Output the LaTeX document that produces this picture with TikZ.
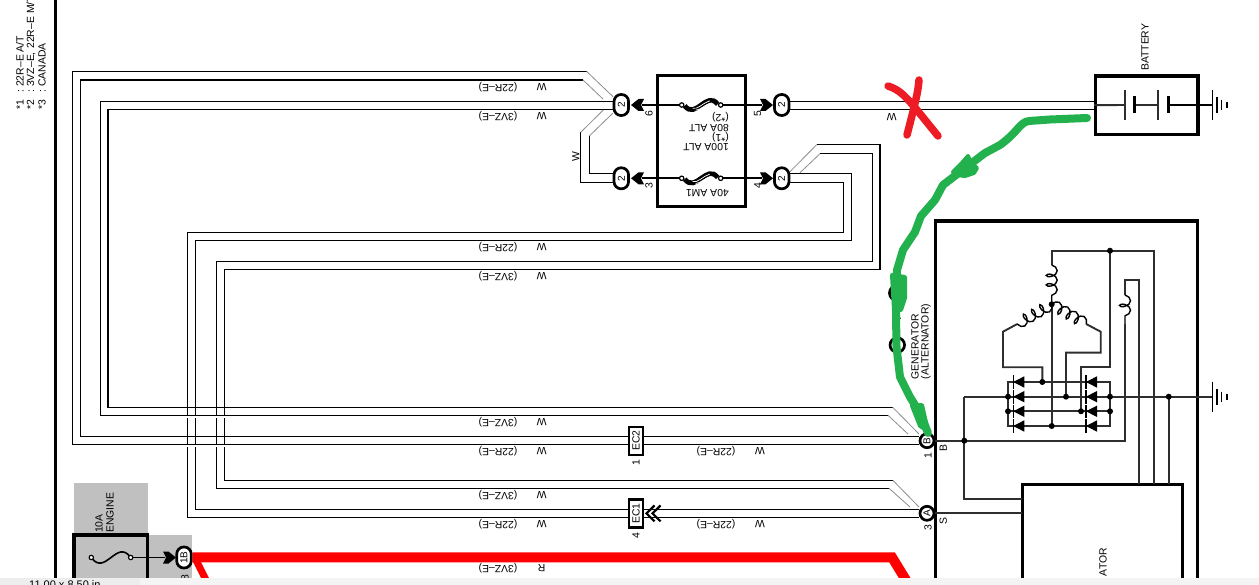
\documentclass[tikz,border=0pt]{standalone}
\usepackage{fontspec}
\setmainfont{Liberation Sans}
\usetikzlibrary{positioning}
\usetikzlibrary{calc}
\usetikzlibrary{decorations.pathmorphing}
\definecolor{markgreen}{HTML}{22B14C}
\definecolor{markred}{HTML}{ED1C24}
\definecolor{zonegray}{HTML}{C0C0C0}
\definecolor{bargray}{HTML}{EDEDED}
\definecolor{barlight}{HTML}{F4F4F4}
\newcommand{\notetext}[2]{\makebox[17pt][l]{#1}\makebox[6pt][l]{:}#2}
\tikzset{
	wire/.style={line width=1.1pt, line join=miter},
	splice/.style={line width=0.8pt, black!45},
	feed/.style={line width=1.9pt, black!82},
	frame/.style={line width=3.3pt},
	smalltext/.style={font=\fontsize{10.4}{11}\selectfont, inner sep=0pt},
	wirelabel/.style={smalltext, rotate=180},
	uptext/.style={smalltext, rotate=90},
	pinoval/.style={draw, line width=2.7pt, fill=white, rounded corners=7pt, minimum width=14.5pt, minimum height=21pt, inner sep=0pt, font=\fontsize{10}{11}\selectfont},
	pinring/.style={draw, line width=2.7pt, fill=white, circle, minimum size=14pt, inner sep=0pt, font=\fontsize{10}{11}\selectfont},
	ecbox/.style={draw, line width=2.2pt, fill=white, minimum width=13.5pt, minimum height=28pt, inner sep=0pt},
	junction/.style={circle, fill, inner sep=0pt, minimum size=6pt},
	tipright/.pic={\fill (0,-6) -- (5.5,-6) -- (13,0) -- (5.5,6) -- (0,6) -- (3,0) -- cycle;},
	tipleft/.pic={\fill (0,-6) -- (-5.5,-6) -- (-13,0) -- (-5.5,6) -- (0,6) -- (-3,0) -- cycle;},
	diode/.pic={\fill (0,0) -- (11,-5.7) -- (11,5.7) -- cycle; \draw[line width=1.3pt] (0,-6.8) -- (0,6.8);},
	earth/.pic={\draw[line width=1.4pt] (0,-15) -- (0,15) (4.7,-8) -- (4.7,8) (9.4,-5) -- (9.4,5); \draw[line width=2pt] (14.4,-3) -- (14.4,3);},
	fusebig/.pic={\draw[line width=4.8pt] (3,0.8) .. controls (14,15) and (25,-15) .. (36,-0.8);
		\draw[white, line width=0.7pt] (11,3.2) .. controls (16,5) and (21,-2) .. (28,-4.2) (14,5.2) .. controls (19,5) and (24,-1) .. (30,-2.2);
		\draw[fill=white, line width=1.2pt] (0,0) circle (2.2pt) (39,0) circle (2.2pt);},
	coilwire/.style={line width=1.4pt, decorate, decoration={coil, aspect=0.6, amplitude=5.5pt, segment length=9.5pt}},
}
\begin{document}
\begin{tikzpicture}[x=1pt, y=-1pt]
	\useasboundingbox (0,0) rectangle (1259,585);
	% gray zones
	\fill[zonegray] (74,483) rectangle (147.7,578);
	\fill[zonegray] (147.7,535) rectangle (192,578);
	% left rule and notes
	\draw[line width=3pt] (55.7,0) -- (55.7,578);
	\node (noteone) [uptext, anchor=west] at (20,110) {\notetext{*1}{22R--E A/T}};
	\node (notetwo) [uptext, anchor=west] at (31,110) {\notetext{*2}{3VZ--E,\,\,22R--E M/T}};
	\node (notethree) [uptext, anchor=west] at (42,110) {\notetext{*3}{CANADA}};
	% connectors
	\node (pinsix) [pinoval] at (621.3,105) {\rotatebox{90}{2}};
	\node (pinthree) [pinoval] at (621.3,178.3) {\rotatebox{90}{2}};
	\node (pinfive) [pinoval] at (781.7,105) {\rotatebox{90}{2}};
	\node (pinfour) [pinoval] at (781.7,178.3) {\rotatebox{90}{2}};
	\node (pinb) [pinring] at (927,440.7) {\rotatebox{90}{B}};
	\node (pina) [pinring] at (927,513.3) {\rotatebox{90}{A}};
	\node (pinengine) [pinoval] at (184,557.5) {\rotatebox{90}{1B}};
	% wires, outer bundle
	\draw[wire] (586.7,71.5) -- (72.5,71.5) -- (72.5,444.3) -- (pinb.west |- 0,444.3);
	\draw[wire] (583,80) -- (80.5,80) -- (80.5,436.3) -- (pinb.west |- 0,436.3);
	\draw[wire] (pinsix.west |- 0,101.3) -- (100.5,101.3) -- (100.5,415.3) -- (888,415.3);
	\draw[wire] (pinsix.west |- 0,109.3) -- (108,109.3) -- (108,407.3) -- (892.7,407.3);
	% wires, inner bundle
	\draw[wire] (816.7,144.7) -- (880,144.7) -- (880,269.3) -- (224.5,269.3) -- (224.5,480.5) -- (893,480.5);
	\draw[wire] (820,153.7) -- (872.6,153.7) -- (872.6,261.3) -- (216.5,261.3) -- (216.5,488.3) -- (889,488.3);
	\draw[wire] (pinfour.east |- 0,173.7) -- (851.3,173.7) -- (851.3,240.4) -- (195.5,240.4) -- (195.5,509.3) -- (pina.west |- 0,509.3);
	\draw[wire] (pinfour.east |- 0,182.3) -- (843.3,182.3) -- (843.3,232.4) -- (187.5,232.4) -- (187.5,517.3) -- (pina.west |- 0,517.3);
	% small breaks where the vertical wires pass under
	\foreach \gapx in {187.5,195.5,216.5,224.5} {
		\draw[white, line width=1.6pt] (\gapx,416.4) -- +(0,1.2);
		\draw[white, line width=1.6pt] (\gapx,445.4) -- +(0,1.2);
	}
	% wires between the fuse pins and to battery
	\draw[wire] (pinfive.east |- 0,101.3) -- (1095.7,101.3);
	\draw[wire] (pinfive.east |- 0,109.3) -- (1095.7,109.3);
	\draw[wire] (pinthree.west |- 0,173.7) -- (589.3,173.7) -- (589.3,136);
	\draw[wire] (pinthree.west |- 0,182.3) -- (580.7,182.3) -- (580.7,132.3);
	% angled splices
	\draw[splice] (586.7,71.5) -- (613,96.7);
	\draw[splice] (583,80) -- (603,99);
	\draw[splice] (603.3,110) -- (580.7,132.3);
	\draw[splice] (612.7,113.3) -- (589.3,136);
	\draw[splice] (816.7,144.7) -- (790,171.7);
	\draw[splice] (820,153.7) -- (800,172.7);
	\draw[splice] (892.7,407.3) -- (919,434);
	\draw[splice] (888,415.3) -- (908,434);
	\draw[splice] (893,480.5) -- (919,507);
	\draw[splice] (889,488.3) -- (910,507);
	% fuse block
	\node (fuseblock) [draw, frame, minimum width=87.6pt, minimum height=131pt, inner sep=0pt] at (701.5,141.2) {};
	\draw[line width=2pt] (642,105) -- (681.7,105) (720.7,105) -- (762,105);
	\draw[line width=2pt] (642,178.3) -- (681.7,178.3) (720.7,178.3) -- (762,178.3);
	\pic at (681.7,105) {fusebig};
	\pic at (681.7,178.3) {fusebig};
	\pic at (760,105) {tipright};
	\pic at (760,178.3) {tipright};
	\pic at (644,105) {tipleft};
	\pic at (644,178.3) {tipleft};
	\node (fusetwo) [wirelabel, anchor=west] at (729,116.7) {(*2)};
	\node (fusealt) [wirelabel, anchor=west] at (729,128.3) {80A ALT};
	\node (fuseone) [wirelabel, anchor=west] at (729,137.3) {(*1)};
	\node (fusemain) [wirelabel, anchor=west] at (729,147.3) {100A ALT};
	\node (fuseam) [wirelabel, anchor=west] at (729,193.3) {40A AM1};
	\node (numsix) [uptext] at (649,113.3) {6};
	\node (numfive) [uptext] at (757.7,113.3) {5};
	\node (numthree) [uptext] at (649,186) {3};
	\node (numfour) [uptext] at (757.7,186) {4};
	\node (wsplice) [uptext] at (575.7,156.7) {W};
	\node (wbat) [wirelabel] at (891.7,116.7) {W};
	% wire labels
	\foreach \rowy/\colname/\engname in {87/W/(22R--E),116/W/(3VZ--E),247/W/(22R--E),276/W/(3VZ--E),422.3/W/(3VZ--E),451.5/W/(22R--E),495.5/W/(3VZ--E),524.3/W/(22R--E),567.7/R/(3VZ--E)} {
		\node [wirelabel] at (541.7,\rowy) {\colname};
		\node [wirelabel] at (498,\rowy) {\engname};
	}
	\foreach \rowy in {451.5,524.3} {
		\node [wirelabel] at (760,\rowy) {W};
		\node [wirelabel] at (716,\rowy) {(22R--E)};
	}
	% in-line connectors
	\node (ectwo) [ecbox] at (636,440.7) {\rotatebox{90}{\fontsize{10.4}{11}\selectfont EC2}};
	\node (econe) [ecbox] at (636,513.5) {\rotatebox{90}{\fontsize{10.4}{11}\selectfont EC1}};
	\node (numecb) [uptext] at (636,462.7) {1};
	\node (numeca) [uptext] at (636,536) {4};
	\draw[line width=2.2pt] (654.5,505.5) -- (646.5,513.4) -- (654.5,521.3) (660.5,505.5) -- (652.5,513.4) -- (660.5,521.3);
	% heavy red wire
	\draw[red, line width=10pt, line join=miter] (pinengine.east |- 0,557.3) -- (892,557.3) -- (912,590);
	\draw[red, line width=7pt] (196,560) -- (211,590);
	% engine fuse
	\node (enginefuse) [draw, frame, minimum width=73.7pt, minimum height=50pt, inner sep=0pt] at (110.8,560) {};
	\draw[line width=1.6pt] (91.3,557.5) .. controls (105,577) and (117,538) .. (130.7,557.5);
	\draw[fill=white, line width=1.1pt] (91.3,557.5) circle (2.2pt) (130.7,557.5) circle (2.2pt);
	\draw[line width=1.3pt] (133,557.5) -- (165,557.5);
	\pic at (163,557.5) {tipright};
	\node (tenamp) [uptext, anchor=west] at (99,533) {10A};
	\node (enginelabel) [uptext, anchor=west] at (110,533) {ENGINE};
	\node (numengine) [uptext] at (185,578) {8};
	% battery
	\node (battery) [draw, frame, minimum width=102.3pt, minimum height=58.3pt, inner sep=0pt] at (1146.8,105.2) {};
	\node (batterylabel) [uptext, anchor=west] at (1145,71) {BATTERY};
	\draw[feed] (battery.west) -- (1125,105) (1134.3,105) -- (1158.3,105);
	\draw[line width=1.7pt] (1168.3,105) -- (1212.3,105);
	\draw[feed] (1125,90) -- (1125,120) (1158.3,90) -- (1158.3,120);
	\draw[line width=2.8pt] (1134.3,96) -- (1134.3,113.3) (1168.3,96) -- (1168.3,113.3);
	\pic at (1212.3,105) {earth};
	% generator
	\node (generator) [uptext, anchor=west] at (915,379.3) {GENERATOR};
	\node (alternator) [uptext, anchor=west] at (926,379.3) {(ALTERNATOR)};
	\node (numb) [uptext] at (928,455.7) {1};
	\node (numa) [uptext] at (928,528) {3};
	\node (termb) [uptext] at (943.3,448) {B};
	\node (terms) [uptext] at (943.3,520.7) {S};
	\draw[frame] (935.7,578) -- (935.7,221) -- (1197.3,221) -- (1197.3,578);
	\draw[frame] (1022.3,578) -- (1022.3,484.3) -- (1182.7,484.3) -- (1182.7,578);
	\node (regulator) [uptext, anchor=east] at (1103,548) {ATOR};
	% generator wiring
	\draw[feed] (pinb.east) -- (1125,440.7) -- (1125,324);
	\draw[feed] (pina.east) -- (1022.3,513.3);
	\draw[feed] (964.3,396.7) -- (964.3,498.7) -- (1022.3,498.7);
	\draw[feed] (964.3,396.7) -- (1212.3,396.7);
	\draw[feed] (1168.7,396.7) -- (1168.7,484.3);
	\draw[feed] (1051.7,304.3) -- (1051.7,426);
	\draw[feed] (1051.7,265) -- (1051.7,250.7) -- (1154,250.7) -- (1154,484.3);
	\draw[feed] (1110,250.7) -- (1110,367.3) -- (1081,367.3) -- (1081,411.3);
	\draw[feed] (1125,295) -- (1125,280) -- (1139.3,280) -- (1139.3,484.3);
	\draw[feed] (1016.7,324.3) -- (1003,331.7) -- (1003,367.3) -- (1042.3,367.3) -- (1042.3,382);
	\draw[feed] (1086.7,324.3) -- (1100.7,331.7) -- (1100.7,352.7) -- (1066,352.7) -- (1066,396.7);
	\draw[coilwire] (1051.7,265) -- (1051.7,304.3);
	\draw[coilwire] (1125,295) -- (1125,324);
	\draw[coilwire] (1051.7,304.3) -- (1016.7,324.3);
	\draw[coilwire] (1051.7,304.3) -- (1086.7,324.3);
	% diode rows
	\draw[feed] (1008,382) -- (1110,382) -- (1110,426) -- (1008,426) -- cycle;
	\draw[feed] (1008,411.3) -- (1110,411.3);
	\foreach \rowy in {382,396.7,411.3,426} {
		\pic at (1013.3,\rowy) {diode};
		\pic at (1086,\rowy) {diode};
	}
	% junction dots
	\foreach \dotx/\doty in {964.3/440.7,1168.7/396.7,1008/396.7,1066/396.7,1110/396.7,1008/411.3,1081/411.3,1110/411.3,1042.3/382,1051.7/426,1051.7/304.3,1110/250.7} {
		\node [junction] at (\dotx,\doty) {};
	}
	\pic at (1212.3,396.7) {earth};
	% connectors behind the marker stroke
	\node (pinhidden) [pinring, minimum size=14.5pt] at (897.3,345) {};
	\node (pinupper) [pinring, minimum size=15pt] at (897,293) {};
	\fill (899.6,318.3) circle (1.3pt) (900,364) circle (0.8pt);
	% hand marks
	\draw[markred, line width=7.5pt, line cap=round, line join=round] (888,86) .. controls (900,90) and (905,96) .. (917,110) -- (938,136);
	\draw[markred, line width=7.5pt, line cap=round, line join=round] (919,80) .. controls (918,92) and (916,100) .. (907,135);
	\draw[markgreen, line width=8pt, line cap=round, line join=round] (1087,118) -- (1050,119.5) -- (1029,121) .. controls (1020,122) and (1018,132) .. (1000,145) -- (985,153) -- (960,172) -- (943,185) -- (935,200) -- (921,216) -- (915,232) -- (903,250) -- (897,270) -- (896,313) -- (896.5,347) -- (900,377) -- (910,397) -- (920,413) -- (928,433);
	\fill[markgreen, draw=markgreen, line width=4pt, line join=round] (968,156) -- (971,163) -- (977,168) -- (974,173) -- (965,176) -- (957,175) -- (953,172) -- (961,164) -- cycle;
	\fill[markgreen, draw=markgreen, line width=4pt, line join=round] (892,275) -- (905,277) -- (905,298) -- (901,310) -- (894,310) -- cycle;
	\fill[markgreen, draw=markgreen, line width=4pt, line join=round] (912,406) -- (922,405) -- (928,431) -- (920,426) -- cycle;
	% viewer bar
	\fill[bargray] (0,578.3) rectangle (140,585);
	\fill[barlight] (140,578.3) rectangle (1259,585);
	\node (pagesize) [smalltext, font=\fontsize{11}{12}\selectfont, anchor=west] at (29,584.4) {11.00 x 8.50 in};
\end{tikzpicture}
\end{document}
